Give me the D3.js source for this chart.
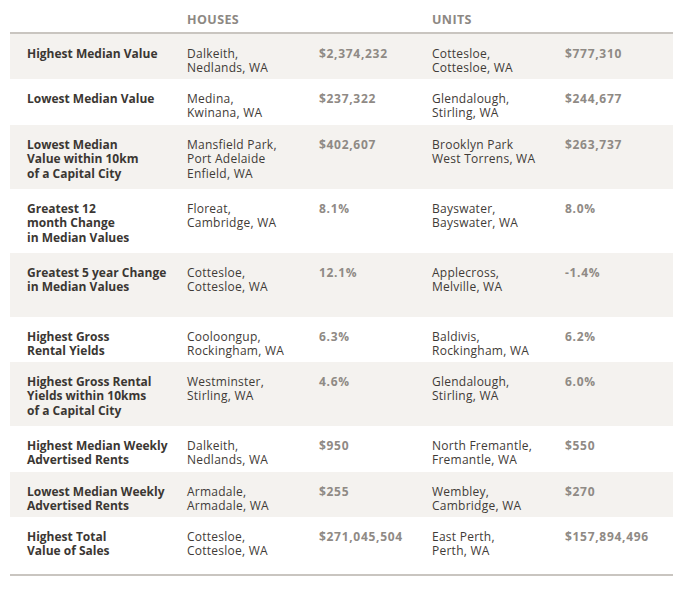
<!DOCTYPE html>
<html>
<head>
<meta charset="utf-8">
<script src="https://cdn.jsdelivr.net/npm/d3@7"></script>
<style>
  html, body { margin: 0; padding: 0; background: #ffffff; }
  svg { display: block; }
</style>
</head>
<body>
<svg id="chart" width="694" height="601"></svg>
<script>
// ---- data ----
const columnHeaders = ["HOUSES", "UNITS"];
const categories = [
  ["Highest Median Value"],
  ["Lowest Median Value"],
  ["Lowest Median", "Value within 10km", "of a Capital City"],
  ["Greatest 12", "month Change", "in Median Values"],
  ["Greatest 5 year Change", "in Median Values"],
  ["Highest Gross", "Rental Yields"],
  ["Highest Gross Rental", "Yields within 10kms", "of a Capital City"],
  ["Highest Median Weekly", "Advertised Rents"],
  ["Lowest Median Weekly", "Advertised Rents"],
  ["Highest Total", "Value of Sales"]
];
const houseSuburbs = [
  ["Dalkeith,", "Nedlands, WA"],
  ["Medina,", "Kwinana, WA"],
  ["Mansfield Park,", "Port Adelaide", "Enfield, WA"],
  ["Floreat,", "Cambridge, WA"],
  ["Cottesloe,", "Cottesloe, WA"],
  ["Cooloongup,", "Rockingham, WA"],
  ["Westminster,", "Stirling, WA"],
  ["Dalkeith,", "Nedlands, WA"],
  ["Armadale,", "Armadale, WA"],
  ["Cottesloe,", "Cottesloe, WA"]
];
const houseValues = ["$2,374,232", "$237,322", "$402,607", "8.1%", "12.1%", "6.3%", "4.6%", "$950", "$255", "$271,045,504"];
const unitSuburbs = [
  ["Cottesloe,", "Cottesloe, WA"],
  ["Glendalough,", "Stirling, WA"],
  ["Brooklyn Park", "West Torrens, WA"],
  ["Bayswater,", "Bayswater, WA"],
  ["Applecross,", "Melville, WA"],
  ["Baldivis,", "Rockingham, WA"],
  ["Glendalough,", "Stirling, WA"],
  ["North Fremantle,", "Fremantle, WA"],
  ["Wembley,", "Cambridge, WA"],
  ["East Perth,", "Perth, WA"]
];
const unitValues = ["$777,310", "$244,677", "$263,737", "8.0%", "-1.4%", "6.2%", "6.0%", "$550", "$270", "$157,894,496"];

// ---- layout ----
const rowHeights = [45, 46, 64, 64, 64, 45, 64, 46, 45, 50];
const tableTop = 34, tableLeft = 10, tableRight = 673;
const lineH = 14.6, firstLineOffset = 19.5;
const font = "'Open Sans', 'DejaVu Sans', sans-serif";

const rows = categories.map((c, i) => ({
  label: c, hs: houseSuburbs[i], hv: houseValues[i], us: unitSuburbs[i], uv: unitValues[i]
}));
let acc = tableTop;
const rowTops = rowHeights.map(h => { const t = acc; acc += h; return t; });

const colX = d3.scaleOrdinal()
  .domain(["label", "hs", "hv", "us", "uv"])
  .range([27, 187, 319, 432, 565]);

const svg = d3.select("#chart");

// header
svg.selectAll("text.hdr").data(columnHeaders).join("text")
  .attr("class", "hdr")
  .attr("x", (d, i) => colX(i === 0 ? "hs" : "us"))
  .attr("y", 24)
  .attr("font-family", font).attr("font-size", 12.5).attr("font-weight", 700)
  .attr("letter-spacing", 0.4)
  .attr("fill", "#8d8883")
  .text(d => d);

// row backgrounds
const g = svg.selectAll("g.row").data(rows).join("g")
  .attr("class", "row")
  .attr("transform", (d, i) => `translate(0,${rowTops[i]})`);

g.append("rect")
  .attr("x", tableLeft).attr("y", 0)
  .attr("width", tableRight - tableLeft)
  .attr("height", (d, i) => rowHeights[i])
  .attr("fill", (d, i) => i % 2 === 0 ? "#f4f2ef" : "#ffffff");

function addLines(sel, key, weight, color, spacing) {
  sel.each(function(d) {
    const val = Array.isArray(d[key]) ? d[key] : [d[key]];
    d3.select(this).append("text")
      .attr("x", colX(key))
      .attr("y", firstLineOffset)
      .attr("font-family", font)
      .attr("font-size", 12)
      .attr("font-weight", weight)
      .attr("letter-spacing", spacing)
      .attr("fill", color)
      .selectAll("tspan").data(val).join("tspan")
      .attr("x", colX(key))
      .attr("dy", (t, j) => j === 0 ? "0.35em" : lineH)
      .text(t => t);
  });
}
addLines(g, "label", 700, "#3b3733", 0);
addLines(g, "hs", 400, "#3f3b37", 0.25);
addLines(g, "hv", 700, "#8f8a85", 0.7);
addLines(g, "us", 400, "#3f3b37", 0.25);
addLines(g, "uv", 700, "#8f8a85", 0.7);

// header and bottom lines
svg.append("line")
  .attr("x1", tableLeft).attr("x2", tableRight)
  .attr("y1", 33).attr("y2", 33)
  .attr("stroke", "#c9c5c0").attr("stroke-width", 2);
svg.append("line")
  .attr("x1", tableLeft).attr("x2", tableRight)
  .attr("y1", 575).attr("y2", 575)
  .attr("stroke", "#c9c5c0").attr("stroke-width", 2);
</script>
</body>
</html>
